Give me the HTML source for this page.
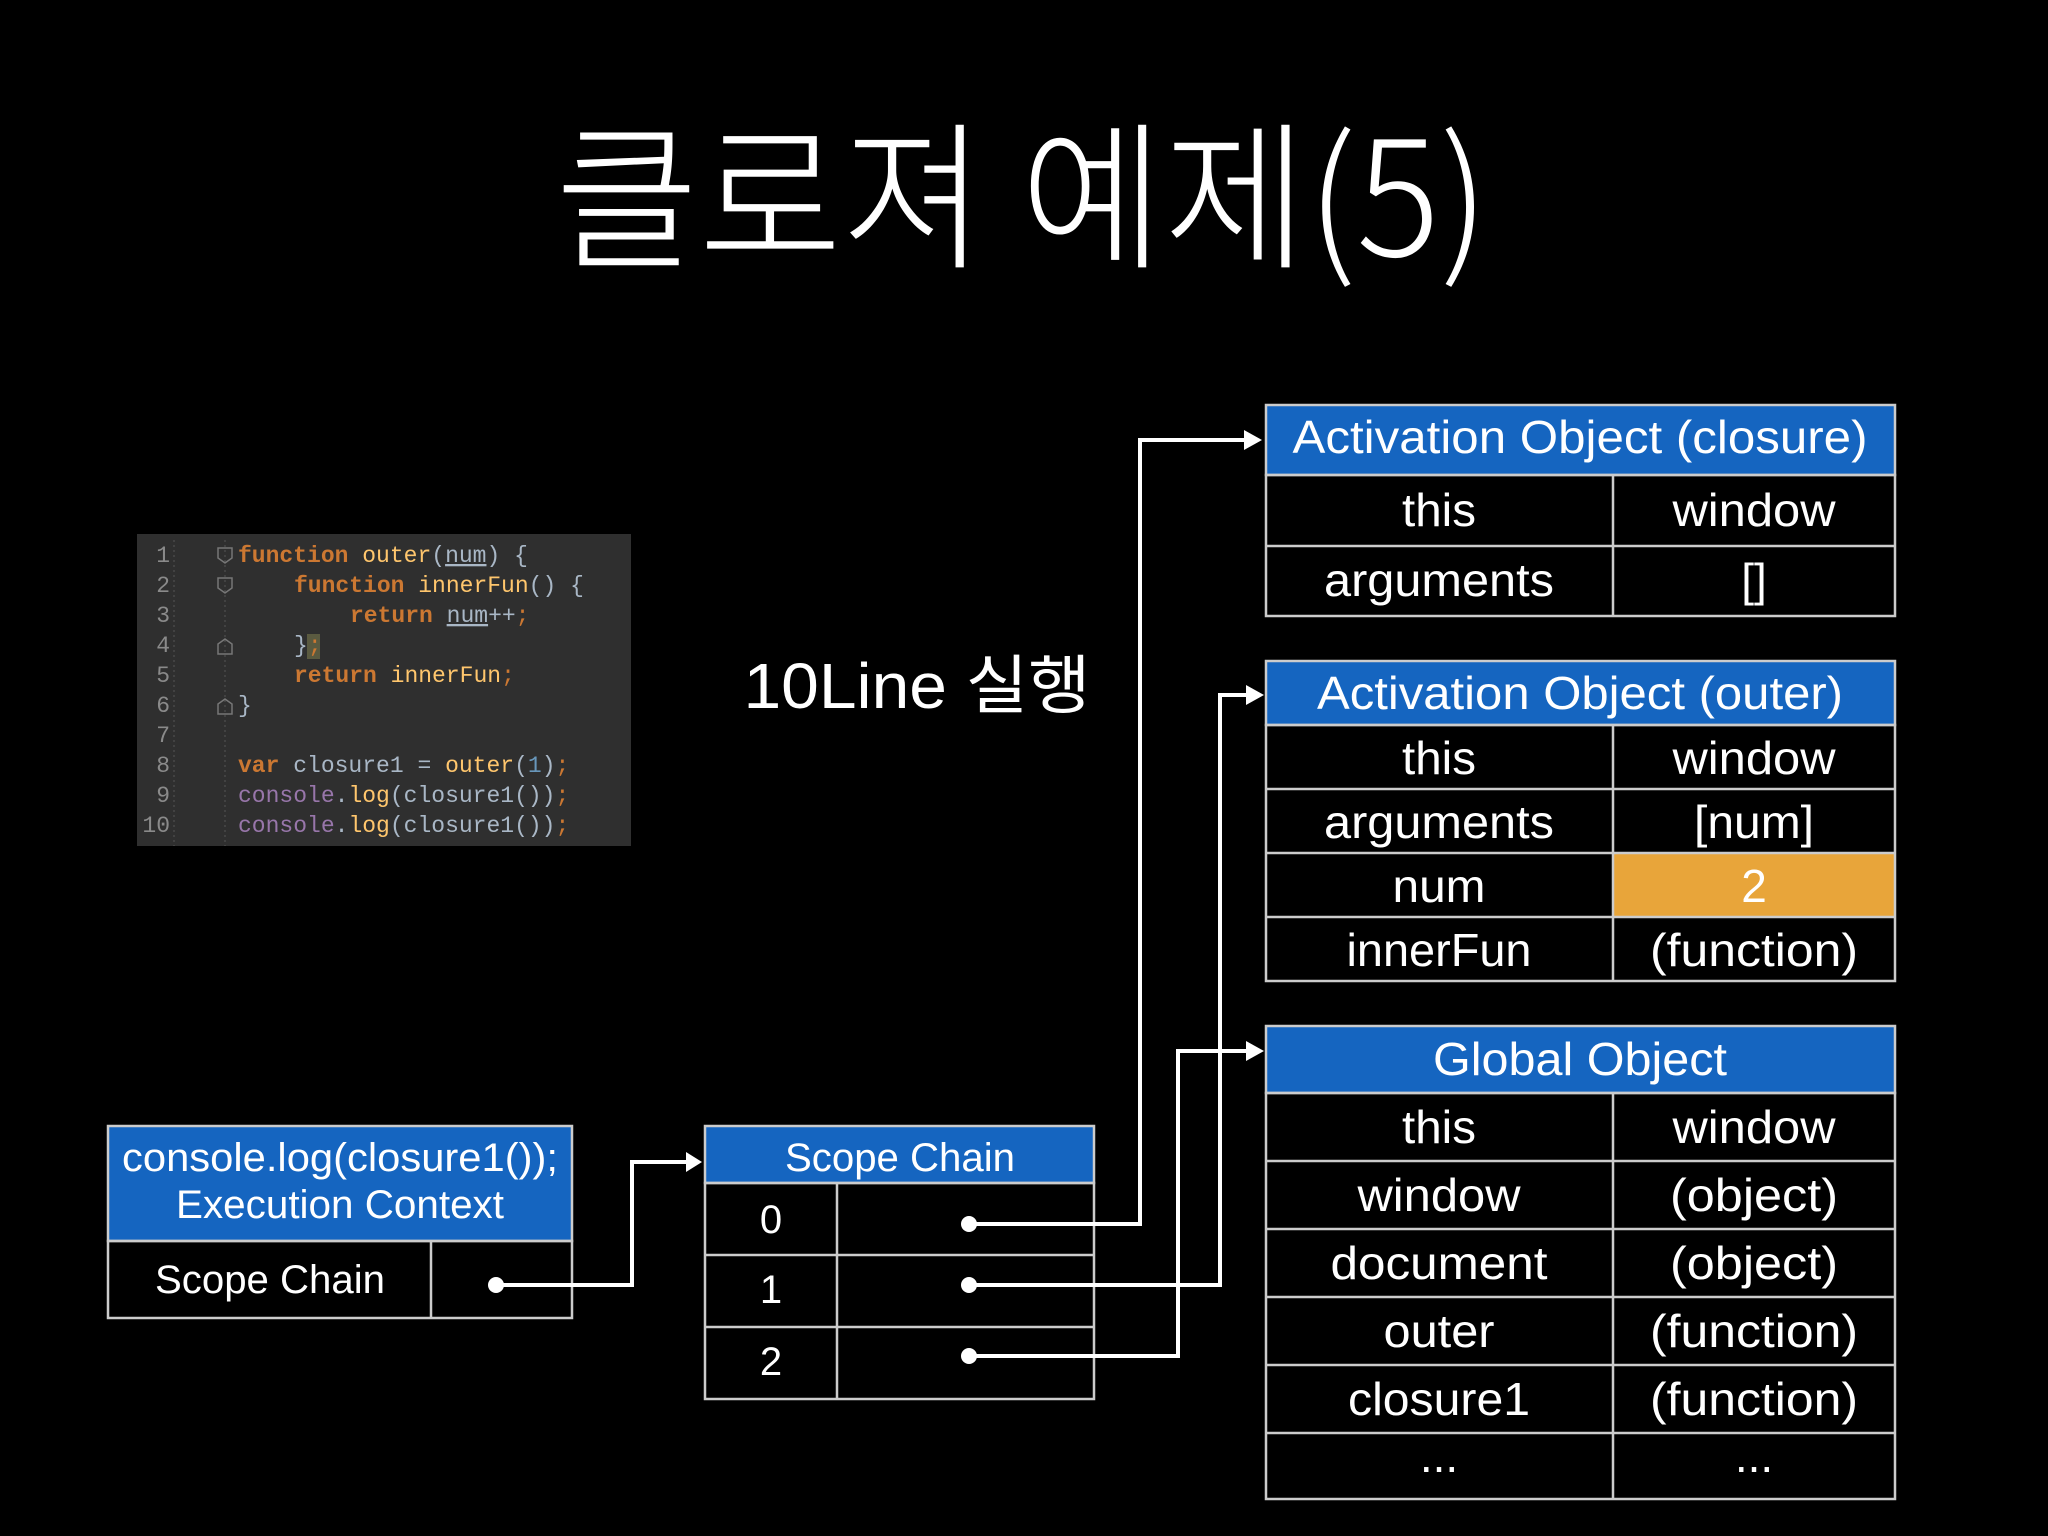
<!DOCTYPE html>
<html><head><meta charset="utf-8"><style>
html,body{margin:0;padding:0;background:#000;}
svg{display:block}
.t{font-family:"Liberation Sans",sans-serif;fill:#fff;font-size:46px;text-anchor:middle}
.c{font-family:"Liberation Mono",monospace;font-size:23px}
</style></head><body>
<svg width="2048" height="1536" viewBox="0 0 2048 1536" xmlns="http://www.w3.org/2000/svg">
<rect width="2048" height="1536" fill="#000"/>
<text x="1022" y="256" textLength="934" lengthAdjust="spacingAndGlyphs" style="font-family:'Noto Sans CJK KR','Liberation Sans',sans-serif;font-weight:300;font-size:160px;fill:#fff;text-anchor:middle">클로져 예제(5)</text>
<text x="917" y="708" textLength="347" lengthAdjust="spacingAndGlyphs" style="font-family:'Liberation Sans','Noto Sans CJK KR',sans-serif;font-size:64px;fill:#fff;text-anchor:middle">10Line 실행</text>

<!-- code block -->
<rect x="137" y="534" width="494" height="312" fill="#2f2f2f"/>
<line x1="174" y1="540" x2="174" y2="846" stroke="#555" stroke-dasharray="2,3"/>
<line x1="225" y1="540" x2="225" y2="846" stroke="#555" stroke-dasharray="2,3"/>
<g fill="none" stroke="#777" stroke-width="1.5">
<path d="M218,548 h14 v10 l-7,5 l-7,-5 z"/>
<path d="M218,578 h14 v10 l-7,5 l-7,-5 z"/>
<path d="M218,654 h14 v-10 l-7,-5 l-7,5 z"/>
<path d="M218,714 h14 v-10 l-7,-5 l-7,5 z"/>
</g>
<g class="c" fill="#8a8a8a" text-anchor="end">
<text x="170" y="562">1</text><text x="170" y="592">2</text><text x="170" y="622">3</text><text x="170" y="652">4</text><text x="170" y="682">5</text><text x="170" y="712">6</text><text x="170" y="742">7</text><text x="170" y="772">8</text><text x="170" y="802">9</text><text x="170" y="832">10</text>
</g>
<rect x="307" y="634" width="13" height="25" fill="#5a5a40"/>
<g class="c" fill="#a9b7c6" xml:space="preserve">
<text x="238" y="562"><tspan fill="#cc7832" font-weight="bold">function</tspan> <tspan fill="#ffc66d">outer</tspan>(<tspan text-decoration="underline">num</tspan>) {</text>
<text x="294" y="592"><tspan fill="#cc7832" font-weight="bold">function</tspan> <tspan fill="#ffc66d">innerFun</tspan>() {</text>
<text x="350" y="622"><tspan fill="#cc7832" font-weight="bold">return</tspan> <tspan text-decoration="underline">num</tspan>++<tspan fill="#cc7832">;</tspan></text>
<text x="294" y="652">}<tspan fill="#cc7832">;</tspan></text>
<text x="294" y="682"><tspan fill="#cc7832" font-weight="bold">return</tspan> <tspan fill="#ffc66d">innerFun</tspan><tspan fill="#cc7832">;</tspan></text>
<text x="238" y="712">}</text>
<text x="238" y="772"><tspan fill="#cc7832" font-weight="bold">var</tspan> closure1 = <tspan fill="#ffc66d">outer</tspan>(<tspan fill="#6897bb">1</tspan>)<tspan fill="#cc7832">;</tspan></text>
<text x="238" y="802"><tspan fill="#9876aa">console</tspan>.<tspan fill="#ffc66d">log</tspan>(closure1())<tspan fill="#cc7832">;</tspan></text>
<text x="238" y="832"><tspan fill="#9876aa">console</tspan>.<tspan fill="#ffc66d">log</tspan>(closure1())<tspan fill="#cc7832">;</tspan></text>
</g>

<!-- Closure AO -->
<g stroke="#ccc" stroke-width="2.5" fill="none">
<rect x="1266" y="405" width="629" height="70" fill="#1565c0"/>
<rect x="1266" y="475" width="629" height="141"/>
<line x1="1266" y1="546" x2="1895" y2="546"/><line x1="1613" y1="475" x2="1613" y2="616"/>
</g>
<text class="t" x="1580" y="453" textLength="575" lengthAdjust="spacingAndGlyphs">Activation Object (closure)</text>
<text class="t" x="1439" y="526" textLength="74" lengthAdjust="spacingAndGlyphs">this</text>
<text class="t" x="1754" y="526" textLength="163" lengthAdjust="spacingAndGlyphs">window</text>
<text class="t" x="1439" y="596" textLength="230" lengthAdjust="spacingAndGlyphs">arguments</text>
<text class="t" x="1754" y="596">[]</text>

<!-- Outer AO -->
<rect x="1613" y="853" width="282" height="64" fill="#e8a53a"/>
<g stroke="#ccc" stroke-width="2.5" fill="none">
<rect x="1266" y="661" width="629" height="64" fill="#1565c0"/>
<rect x="1266" y="725" width="629" height="256"/>
<line x1="1266" y1="789" x2="1895" y2="789"/><line x1="1266" y1="853" x2="1895" y2="853"/><line x1="1266" y1="917" x2="1895" y2="917"/>
<line x1="1613" y1="725" x2="1613" y2="981"/>
</g>
<text class="t" x="1580" y="709" textLength="526" lengthAdjust="spacingAndGlyphs">Activation Object (outer)</text>
<text class="t" x="1439" y="774" textLength="74" lengthAdjust="spacingAndGlyphs">this</text>
<text class="t" x="1754" y="774" textLength="163" lengthAdjust="spacingAndGlyphs">window</text>
<text class="t" x="1439" y="838" textLength="230" lengthAdjust="spacingAndGlyphs">arguments</text>
<text class="t" x="1754" y="838" textLength="120" lengthAdjust="spacingAndGlyphs">[num]</text>
<text class="t" x="1439" y="902" textLength="93" lengthAdjust="spacingAndGlyphs">num</text>
<text class="t" x="1754" y="902">2</text>
<text class="t" x="1439" y="966" textLength="185" lengthAdjust="spacingAndGlyphs">innerFun</text>
<text class="t" x="1754" y="966" textLength="208" lengthAdjust="spacingAndGlyphs">(function)</text>

<!-- Global -->
<g stroke="#ccc" stroke-width="2.5" fill="none">
<rect x="1266" y="1026" width="629" height="67" fill="#1565c0"/>
<rect x="1266" y="1093" width="629" height="406"/>
<line x1="1266" y1="1161" x2="1895" y2="1161"/><line x1="1266" y1="1229" x2="1895" y2="1229"/><line x1="1266" y1="1297" x2="1895" y2="1297"/><line x1="1266" y1="1365" x2="1895" y2="1365"/><line x1="1266" y1="1433" x2="1895" y2="1433"/>
<line x1="1613" y1="1093" x2="1613" y2="1499"/>
</g>
<text class="t" x="1580" y="1075" textLength="294" lengthAdjust="spacingAndGlyphs">Global Object</text>
<text class="t" x="1439" y="1143" textLength="74" lengthAdjust="spacingAndGlyphs">this</text>
<text class="t" x="1754" y="1143" textLength="163" lengthAdjust="spacingAndGlyphs">window</text>
<text class="t" x="1439" y="1211" textLength="163" lengthAdjust="spacingAndGlyphs">window</text>
<text class="t" x="1754" y="1211" textLength="168" lengthAdjust="spacingAndGlyphs">(object)</text>
<text class="t" x="1439" y="1279" textLength="217" lengthAdjust="spacingAndGlyphs">document</text>
<text class="t" x="1754" y="1279" textLength="168" lengthAdjust="spacingAndGlyphs">(object)</text>
<text class="t" x="1439" y="1347" textLength="111" lengthAdjust="spacingAndGlyphs">outer</text>
<text class="t" x="1754" y="1347" textLength="208" lengthAdjust="spacingAndGlyphs">(function)</text>
<text class="t" x="1439" y="1415" textLength="182" lengthAdjust="spacingAndGlyphs">closure1</text>
<text class="t" x="1754" y="1415" textLength="208" lengthAdjust="spacingAndGlyphs">(function)</text>
<text class="t" x="1439" y="1472">...</text>
<text class="t" x="1754" y="1472">...</text>

<!-- Execution context -->
<g stroke="#ccc" stroke-width="2.5" fill="none">
<rect x="108" y="1126" width="464" height="115" fill="#1565c0"/>
<rect x="108" y="1241" width="464" height="77"/>
<line x1="431" y1="1241" x2="431" y2="1318"/>
</g>
<text class="t" x="340" y="1171" style="font-size:40px" textLength="436" lengthAdjust="spacingAndGlyphs">console.log(closure1());</text>
<text class="t" x="340" y="1218" style="font-size:40px" textLength="328" lengthAdjust="spacingAndGlyphs">Execution Context</text>
<text class="t" x="270" y="1293" style="font-size:40px" textLength="230" lengthAdjust="spacingAndGlyphs">Scope Chain</text>

<!-- Scope chain -->
<g stroke="#ccc" stroke-width="2.5" fill="none">
<rect x="705" y="1126" width="389" height="57" fill="#1565c0"/>
<rect x="705" y="1183" width="389" height="216"/>
<line x1="705" y1="1255" x2="1094" y2="1255"/><line x1="705" y1="1327" x2="1094" y2="1327"/>
<line x1="837" y1="1183" x2="837" y2="1399"/>
</g>
<text class="t" x="900" y="1171" style="font-size:40px" textLength="230" lengthAdjust="spacingAndGlyphs">Scope Chain</text>
<text class="t" x="771" y="1233" style="font-size:40px">0</text>
<text class="t" x="771" y="1303" style="font-size:40px">1</text>
<text class="t" x="771" y="1375" style="font-size:40px">2</text>

<!-- connectors -->
<g stroke="#fff" stroke-width="4" fill="none">
<polyline points="496,1285 632,1285 632,1162 688,1162"/>
<polyline points="969,1224 1140,1224 1140,440 1246,440"/>
<polyline points="969,1285 1220,1285 1220,695 1250,695"/>
<polyline points="969,1356 1178,1356 1178,1051 1250,1051"/>
</g>
<g fill="#fff">
<circle cx="496" cy="1285" r="8"/><circle cx="969" cy="1224" r="8"/><circle cx="969" cy="1285" r="8"/><circle cx="969" cy="1356" r="8"/>
<polygon points="686,1152 702,1162 686,1172"/>
<polygon points="1244,430 1262,440 1244,450"/>
<polygon points="1246,685 1264,695 1246,705"/>
<polygon points="1246,1041 1264,1051 1246,1061"/>
</g>
</svg>
</body></html>
